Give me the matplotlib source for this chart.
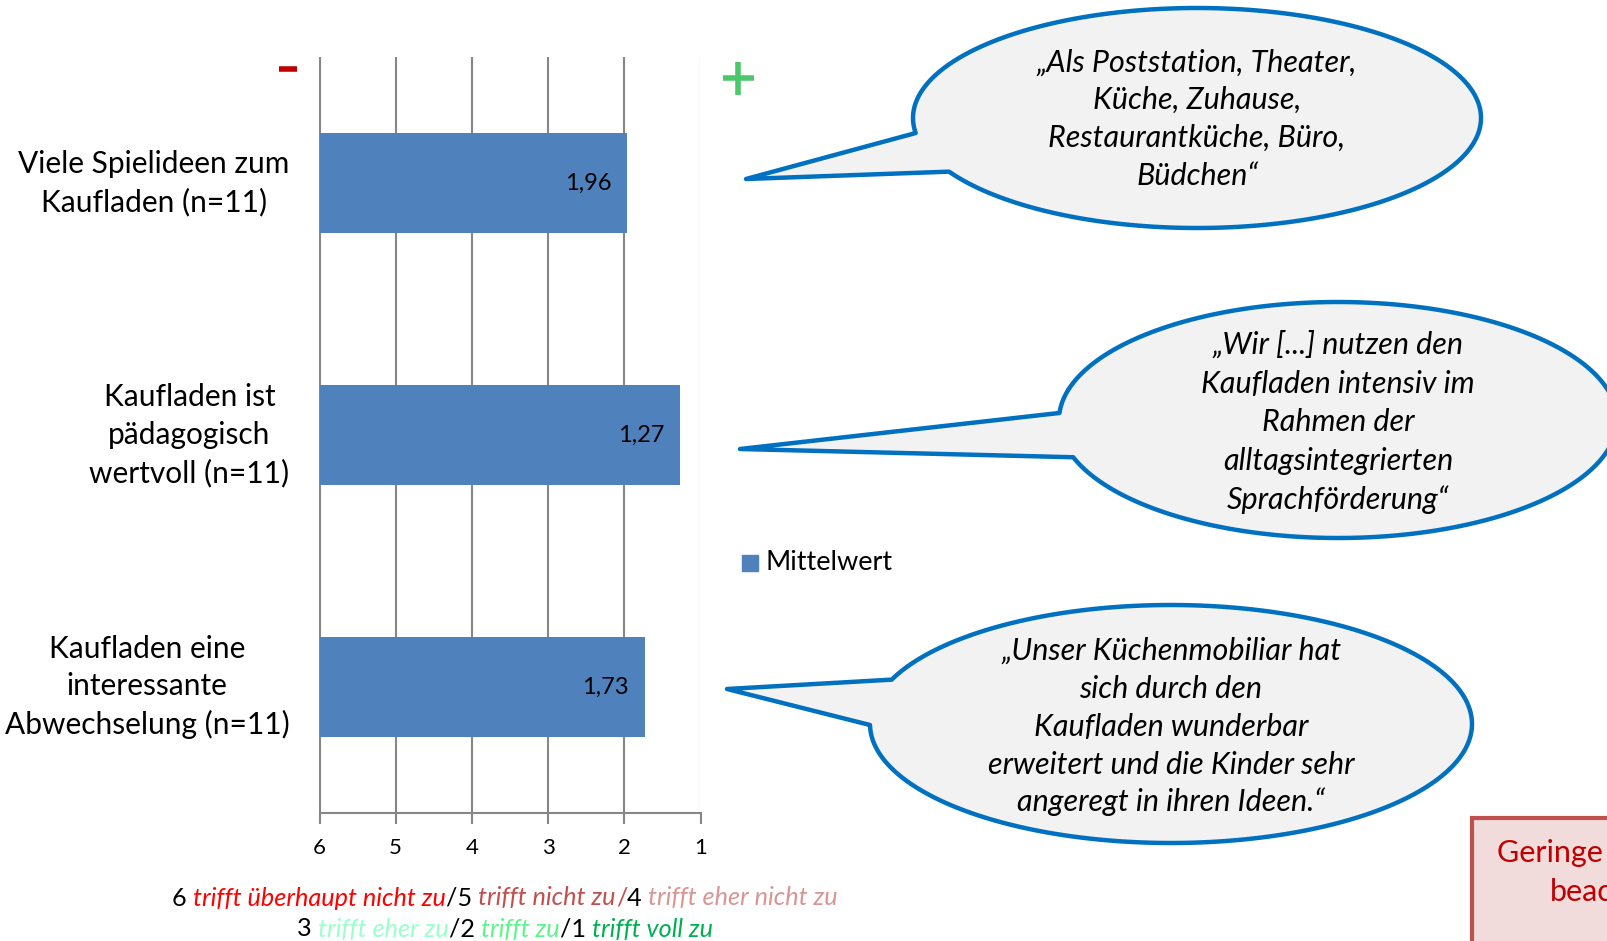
import numpy as np
import matplotlib
matplotlib.use("Agg")
import matplotlib.pyplot as plt
from matplotlib.patches import Polygon, Rectangle
from matplotlib.offsetbox import TextArea, HPacker, AnnotationBbox

plt.rcParams['font.family'] = ['Lato', 'DejaVu Sans']

# data
categories = ["Viele Spielideen zum\nKaufladen (n=11)",
              "Kaufladen ist\npädagogisch\nwertvoll (n=11)",
              "Kaufladen eine\ninteressante\nAbwechselung (n=11)"]
mittelwert = [1.96, 1.27, 1.73]
ticks = [6, 5, 4, 3, 2, 1]
series_name = "Mittelwert"

scale_line1 = [("6 ", "black", "normal"), ("trifft überhaupt nicht zu", "#FF0000", "italic"),
               ("/5 ", "black", "normal"), ("trifft nicht zu", "#C0504D", "italic"),
               ("/", "#C0504D", "normal"), ("4 ", "black", "normal"),
               ("trifft eher nicht zu", "#D99594", "italic")]
scale_line2 = [("3 ", "black", "normal"), ("trifft eher zu", "#99FFCC", "italic"),
               ("/2 ", "black", "normal"), ("trifft zu", "#5CF58A", "italic"),
               ("/1 ", "black", "normal"), ("trifft voll zu", "#00B050", "italic")]

quotes = [["„Als Poststation, Theater,", "Küche, Zuhause,", "Restaurantküche, Büro,", "Büdchen“"],
          ["„Wir [...] nutzen den", "Kaufladen intensiv im", "Rahmen der", "alltagsintegrierten",
           "Sprachförderung“"],
          ["„Unser Küchenmobiliar hat", "sich durch den", "Kaufladen wunderbar",
           "erweitert und die Kinder sehr", "angeregt in ihren Ideen.“"]]

# bubble layout in pixels (x, y from top): centre, half axes, tip, tail base points
bubbles = [dict(c=(1197, 118), a=284, b=110, tip=(746, 179), p1=(916, 133), p2=(952, 171),
                lines_y=[63, 100, 138, 176]),
           dict(c=(1338, 420), a=279, b=118, tip=(740, 449), p1=(1061, 413), p2=(1075, 457),
                lines_y=[345, 384, 422, 461, 500]),
           dict(c=(1171, 724), a=301, b=119, tip=(727, 689), p1=(894, 680), p2=(872, 725),
                lines_y=[651, 689, 727, 765, 802])]

W, H = 1608, 941
fig = plt.figure(figsize=(W / 100, H / 100), dpi=100)

# main bar chart
ax = fig.add_axes([319.5 / W, 1 - 813 / H, 381 / W, 756 / H])
ypos = np.arange(len(categories))
ax.set_xlim(6, 1)
ax.set_ylim(2.5, -0.5)
ax.set_xticks(ticks)
ax.set_xticklabels([str(t) for t in ticks], fontsize=16)
ax.set_yticks([])
ax.grid(axis='x', color="#868686", linewidth=1.5, zorder=0)
for s in ["top", "left", "right"]:
    ax.spines[s].set_visible(False)
ax.spines["bottom"].set_color("#868686")
ax.spines["bottom"].set_linewidth(1.5)
ax.tick_params(axis='x', length=8, width=1.5, color="#868686", pad=10)

# bars go from 6 toward the value
for y, v in zip(ypos, mittelwert):
    ax.barh(y, v - 6, left=6, height=0.4, color="#4F81BD", zorder=3)
    ax.annotate(f"{v:.2f}".replace(".", ","), xy=(v, y), xytext=(-16, 0),
                textcoords="offset pixels", ha="right", va="center", fontsize=17, zorder=4)

for y, lab in zip(ypos, categories):
    ax.annotate(lab, xy=(6, y), xytext=(-30, 0), textcoords="offset pixels",
                ha="right", va="center", multialignment="center", fontsize=21.5,
                linespacing=1.42, annotation_clip=False)

# overlay in pixel coordinates
ov = fig.add_axes([0, 0, 1, 1])
ov.set_xlim(0, W)
ov.set_ylim(H, 0)
ov.axis("off")

# minus / plus
ov.plot([279, 297], [69, 69], color="#C00000", linewidth=4, solid_capstyle="butt")
ov.plot([723, 754], [78, 78], color="#4CC86A", linewidth=4, solid_capstyle="butt")
ov.plot([738, 738], [62, 95], color="#4CC86A", linewidth=4, solid_capstyle="butt")

# legend
ov.add_patch(Rectangle((742, 555), 16, 16, color="#4F81BD"))
ov.text(766, 563, series_name, fontsize=19.5, va="center", ha="left")

# speech bubbles
for bub, lines in zip(bubbles, quotes):
    cx, cy = bub["c"]
    a, b = bub["a"], bub["b"]
    t1 = np.arctan2((bub["p1"][1] - cy) / b, (bub["p1"][0] - cx) / a) % (2 * np.pi)
    t2 = np.arctan2((bub["p2"][1] - cy) / b, (bub["p2"][0] - cx) / a) % (2 * np.pi)
    if t2 <= t1:
        t2 += 2 * np.pi
    t = np.linspace(t1, t2, 300)
    pts = np.column_stack([cx + a * np.cos(t), cy + b * np.sin(t)])
    pts = np.vstack([bub["tip"], pts])
    ov.add_patch(Polygon(pts, closed=True, facecolor="#F2F2F2", edgecolor="#0070C0",
                         linewidth=3.2, joinstyle="round"))
    for ly, txt in zip(bub["lines_y"], lines):
        ov.text(cx, ly, txt, fontsize=22, style="italic", ha="center", va="center")

# hint box at bottom right (runs off the page, as in the original slide)
ov.add_patch(Rectangle((1472, 818), 300, 200, facecolor="#F2DCDB", edgecolor="#C0504D",
                       linewidth=3))
ov.text(1497, 853, "Geringe Fallzahl", fontsize=22, color="#C00000", va="center", ha="left")
ov.text(1550, 892, "beachten", fontsize=22, color="#C00000", va="center", ha="left")


def colored_line(parts, y):
    boxes = [TextArea(s, textprops=dict(color=c, style=st, fontsize=18.2)) for s, c, st in parts]
    pack = HPacker(children=boxes, align="baseline", pad=0, sep=0)
    ab = AnnotationBbox(pack, (505, y), xycoords="data", frameon=False, box_alignment=(0.5, 0.5))
    ov.add_artist(ab)


colored_line(scale_line1, 898)
colored_line(scale_line2, 929)

fig.savefig("out.png", dpi=100)
